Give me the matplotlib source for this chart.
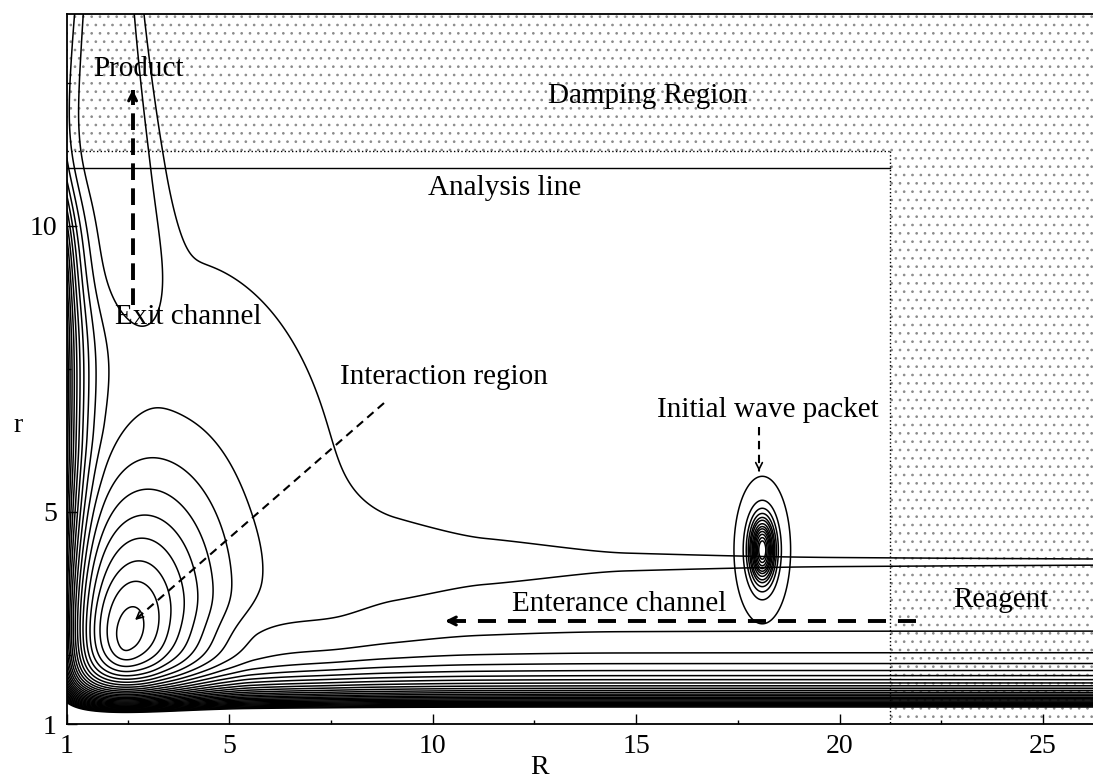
import numpy as np
import matplotlib
matplotlib.use("Agg")
import matplotlib.pyplot as plt

plt.rcParams['font.family'] = ['Liberation Serif', 'DejaVu Serif']
plt.rcParams['lines.scale_dashes'] = False
plt.rcParams['contour.negative_linestyle'] = 'solid'
plt.rcParams['hatch.linewidth'] = 0.7

# ---------------- axes / ticks ----------------
R_lim = (1.0, 26.23)
r_lim = (1.289, 13.71)
R_ticks = [1, 5, 10, 15, 20, 25]
R_tick_labels = ['1', '5', '10', '15', '20', '25']
R_minor = [2.5, 7.5, 12.5, 17.5, 22.5]
r_ticks = [1.289, 5, 10]
r_tick_labels = ['1', '5', '10']
r_minor = [2.5, 7.5, 12.5]

# ---------------- potential energy surface model (units: contour step) ----------------
well_center = [2.45, 2.7]
well_metric = [1.32, -0.2, 0.85]
well_radius = [0.0, 0.25, 0.463, 0.896, 1.27, 1.635, 2.01, 2.43, 2.94, 3.72, 6.1, 7.5, 10.0, 14.0, 20.0, 40.0]
well_energy = [-10.4, -10.0, -9.5, -8.35, -7.15, -6.1, -5.05, -4.0, -2.95, -1.9, -0.9, -0.5, -0.15, -0.02, -0.005, 0.0]
entr_depth = 0.910
entr_center = 4.1
entr_width = 1.1
entr_on = [8.0, 1.0]
exit_depth = 2.5
exit_center = 2.0
exit_width = [0.86, 0.138, 1.6]
exit_on = [8.6, 0.5]
ridge = [0.6, 5.5, 1.6, 2.85, 0.45]
left_wall = [0.6, 2.5]
left_wall_shift = [1.15, 11.0, 0.6]
bottom_wall = [132.0, 3.05]
pes_levels = np.arange(-8.9, 22.2, 1.0)

# initial wave packet (gaussian)
packet_center = [18.1, 4.33]
packet_sigma = [0.27, 0.5]
packet_levels = [0.036, 0.22, 0.344, 0.441, 0.522, 0.582, 0.655, 0.714, 0.76, 0.81, 0.86, 0.91, 0.95]

# regions
analysis_r = 11.01
damping_r = 11.31
damping_R = 21.25


def smooth_profile(xk, yk, x):
    """monotone cubic (PCHIP) interpolation of a radial profile"""
    xk = np.asarray(xk, float)
    yk = np.asarray(yk, float)
    h = np.diff(xk)
    d = np.diff(yk) / h
    m = np.zeros_like(yk)
    for k in range(1, len(xk) - 1):
        if d[k - 1] * d[k] > 0:
            w1 = 2 * h[k] + h[k - 1]
            w2 = h[k] + 2 * h[k - 1]
            m[k] = (w1 + w2) / (w1 / d[k - 1] + w2 / d[k])
    m[-1] = d[-1]
    x = np.clip(x, xk[0], xk[-1])
    i = np.clip(np.searchsorted(xk, x) - 1, 0, len(xk) - 2)
    t = (x - xk[i]) / h[i]
    h00 = 2 * t ** 3 - 3 * t ** 2 + 1
    h10 = t ** 3 - 2 * t ** 2 + t
    h01 = -2 * t ** 3 + 3 * t ** 2
    h11 = t ** 3 - t ** 2
    return h00 * yk[i] + h10 * h[i] * m[i] + h01 * yk[i + 1] + h11 * h[i] * m[i + 1]


def pes(R, r):
    x = R - well_center[0]
    y = r - well_center[1]
    q = well_metric[0] * x * x + 2 * well_metric[1] * x * y + well_metric[2] * y * y
    v = smooth_profile(well_radius, well_energy, np.sqrt(q))
    v -= entr_depth * np.exp(-((r - entr_center) / entr_width) ** 2) / (1 + np.exp(-(R - entr_on[0]) / entr_on[1]))
    w = np.minimum(exit_width[0] + exit_width[1] * (r_lim[1] - r), exit_width[2])
    v -= exit_depth * np.exp(-((R - exit_center) / w) ** 4) / (1 + np.exp(-(r - exit_on[0]) / exit_on[1]))
    v += ridge[0] * np.exp(-((R - ridge[1]) / ridge[2]) ** 2 - ((r - ridge[3]) / ridge[4]) ** 2)
    shift = left_wall_shift[0] / (1 + np.exp((r - left_wall_shift[1]) / left_wall_shift[2]))
    v += left_wall[0] * np.exp(-left_wall[1] * (R - 1.0 - shift))
    v += bottom_wall[0] * np.exp(-bottom_wall[1] * (r - 1.0))
    return v


W, H = 1093, 778
fig = plt.figure(figsize=(W / 100, H / 100), dpi=100)
ax = fig.add_axes([66.7 / W, (H - 724) / H, 1 - 66.7 / W, (724 - 13.5) / H])
ax.set_xlim(*R_lim)
ax.set_ylim(*r_lim)

# damping region (stippled)
poly_R = [R_lim[0], damping_R, damping_R, R_lim[1], R_lim[1], R_lim[0]]
poly_r = [damping_r, damping_r, r_lim[0], r_lim[0], r_lim[1], r_lim[1]]
ax.fill(poly_R, poly_r, facecolor='none', edgecolor='0.55', hatch='..', linewidth=0, zorder=0)
ax.plot([R_lim[0], damping_R], [damping_r, damping_r], ls=':', color='k', lw=1.0)
ax.plot([damping_R, damping_R], [damping_r, r_lim[0]], ls=':', color='k', lw=1.0)
ax.plot([R_lim[0], damping_R], [analysis_r, analysis_r], color='k', lw=1.0)

RR, rr = np.meshgrid(np.linspace(R_lim[0], R_lim[1], 1600), np.linspace(r_lim[0], r_lim[1], 1100))
ax.contour(RR, rr, pes(RR, rr), levels=pes_levels, colors='k', linewidths=1.1)

packet = np.exp(-0.5 * (((RR - packet_center[0]) / packet_sigma[0]) ** 2 + ((rr - packet_center[1]) / packet_sigma[1]) ** 2))
ax.contour(RR, rr, packet, levels=packet_levels, colors='k', linewidths=1.1)

# ---------------- annotations ----------------
fs = 21
ax.text(1.65, 12.62, 'Product', fontsize=fs, ha='left', va='baseline')
ax.text(12.84, 12.15, 'Damping Region', fontsize=fs, ha='left', va='baseline')
ax.text(9.89, 10.54, 'Analysis line', fontsize=fs, ha='left', va='baseline')
ax.text(2.19, 8.28, 'Exit channel', fontsize=fs, ha='left', va='baseline')
ax.text(7.72, 7.23, 'Interaction region', fontsize=fs, ha='left', va='baseline')
ax.text(15.52, 6.65, 'Initial wave packet', fontsize=fs, ha='left', va='baseline')
ax.text(11.95, 3.26, 'Enterance channel', fontsize=fs, ha='left', va='baseline')
ax.text(22.8, 3.33, 'Reagent', fontsize=fs, ha='left', va='baseline')


def dashed_arrow(p0, p1, lw, dash, head):
    ax.plot([p0[0], p1[0]], [p0[1], p1[1]], color='k', lw=lw, ls=(0, dash), solid_capstyle='butt')
    ax.annotate('', xy=p1, xytext=(p1[0] + (p0[0] - p1[0]) * 0.02, p1[1] + (p0[1] - p1[1]) * 0.02),
                arrowprops=dict(arrowstyle='->', lw=lw * 0.8, color='k', mutation_scale=head,
                                shrinkA=0, shrinkB=0))


dashed_arrow((2.62, 8.61), (2.62, 12.38), 2.8, (12, 6), 14)
dashed_arrow((21.88, 3.09), (10.3, 3.09), 2.8, (13, 8.6), 14)
dashed_arrow((8.80, 6.90), (2.68, 3.107), 1.5, (6, 4), 12)
dashed_arrow((18.02, 6.48), (18.02, 5.71), 1.5, (6, 4), 12)

# ---------------- axes styling ----------------
ax.spines['right'].set_visible(False)
for s in ['left', 'bottom', 'top']:
    ax.spines[s].set_linewidth(1.3)
ax.set_xticks(R_ticks)
ax.set_xticklabels(R_tick_labels)
ax.set_xticks(R_minor, minor=True)
ax.set_yticks(r_ticks)
ax.set_yticklabels(r_tick_labels)
ax.set_yticks(r_minor, minor=True)
ax.tick_params(which='both', direction='in', labelsize=20, width=1.0)
ax.tick_params(which='major', length=7, pad=7)
ax.tick_params(which='minor', length=3)
ax.tick_params(axis='x', top=False)
fig.text(540 / W, 1 - 774 / H, 'R', fontsize=20, ha='center', va='baseline')
fig.text(18 / W, 1 - 432 / H, 'r', fontsize=20, ha='center', va='baseline')

fig.savefig('out.png', dpi=100)
